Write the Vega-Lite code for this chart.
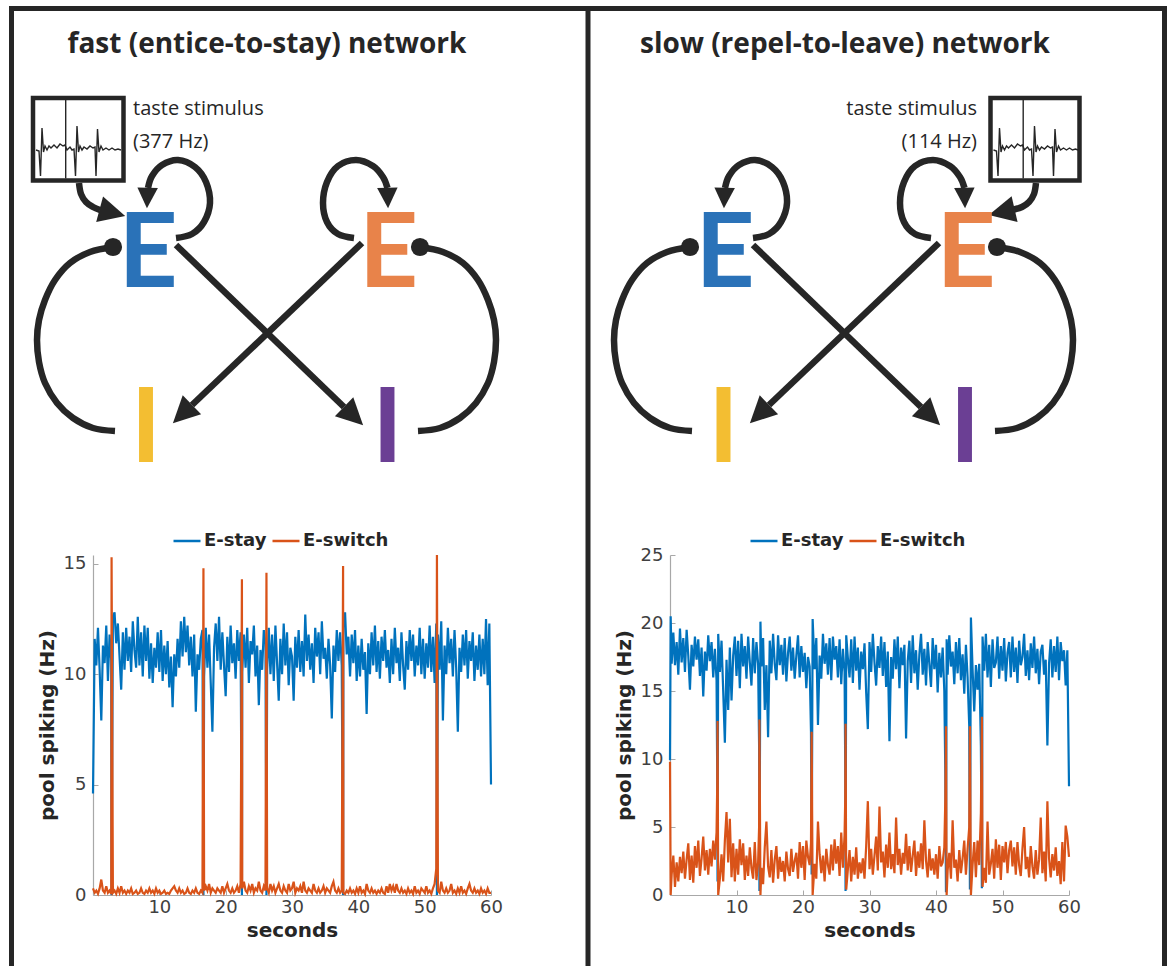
{
  "$schema": "https://vega.github.io/schema/vega-lite/v6.json",
  "width": 1168,
  "height": 966,
  "autosize": {"type": "none"},
  "padding": 0,
  "background": "white",
  "datasets": {
    "frame": [
      {"x": 9, "y": 8.5, "x2": 1167, "y2": 8.5},
      {"x": 11.5, "y": 6, "x2": 11.5, "y2": 966},
      {"x": 588, "y": 8.5, "x2": 588, "y2": 966},
      {"x": 1164.5, "y": 6, "x2": 1164.5, "y2": 966}
    ],
    "boxes": [
      {"x": 33, "y": 98, "x2": 123.5, "y2": 180.5},
      {"x": 990.5, "y": 98, "x2": 1079.5, "y2": 180.5}
    ],
    "thick": [
      {"g": "inL", "i": 0, "x": 79, "y": 183}, {"g": "inL", "i": 1, "x": 81, "y": 194}, {"g": "inL", "i": 2, "x": 86, "y": 202}, {"g": "inL", "i": 3, "x": 93, "y": 207}, {"g": "inL", "i": 4, "x": 100, "y": 210},
      {"g": "loopBL", "i": 0, "x": 176, "y": 238}, {"g": "loopBL", "i": 1, "x": 192, "y": 234}, {"g": "loopBL", "i": 2, "x": 204, "y": 222}, {"g": "loopBL", "i": 3, "x": 210, "y": 203}, {"g": "loopBL", "i": 4, "x": 206, "y": 182}, {"g": "loopBL", "i": 5, "x": 195, "y": 167}, {"g": "loopBL", "i": 6, "x": 178, "y": 160}, {"g": "loopBL", "i": 7, "x": 162, "y": 165}, {"g": "loopBL", "i": 8, "x": 152, "y": 176}, {"g": "loopBL", "i": 9, "x": 148, "y": 188},
      {"g": "loopOL", "i": 0, "x": 354, "y": 238}, {"g": "loopOL", "i": 1, "x": 338, "y": 234}, {"g": "loopOL", "i": 2, "x": 327, "y": 222}, {"g": "loopOL", "i": 3, "x": 323, "y": 203}, {"g": "loopOL", "i": 4, "x": 327, "y": 182}, {"g": "loopOL", "i": 5, "x": 338, "y": 166}, {"g": "loopOL", "i": 6, "x": 356, "y": 160}, {"g": "loopOL", "i": 7, "x": 373, "y": 166}, {"g": "loopOL", "i": 8, "x": 383, "y": 177}, {"g": "loopOL", "i": 9, "x": 387.5, "y": 188},
      {"g": "xBL", "i": 0, "x": 176, "y": 245}, {"g": "xBL", "i": 1, "x": 344, "y": 407},
      {"g": "xOL", "i": 0, "x": 362, "y": 243}, {"g": "xOL", "i": 1, "x": 192, "y": 405},
      {"g": "arcLL", "i": 0, "x": 113, "y": 247}, {"g": "arcLL", "i": 1, "x": 90, "y": 252}, {"g": "arcLL", "i": 2, "x": 70, "y": 263}, {"g": "arcLL", "i": 3, "x": 55, "y": 280}, {"g": "arcLL", "i": 4, "x": 45, "y": 300}, {"g": "arcLL", "i": 5, "x": 39, "y": 320}, {"g": "arcLL", "i": 6, "x": 37, "y": 340}, {"g": "arcLL", "i": 7, "x": 39, "y": 362}, {"g": "arcLL", "i": 8, "x": 45, "y": 383}, {"g": "arcLL", "i": 9, "x": 57, "y": 403}, {"g": "arcLL", "i": 10, "x": 73, "y": 418}, {"g": "arcLL", "i": 11, "x": 93, "y": 428}, {"g": "arcLL", "i": 12, "x": 115, "y": 431},
      {"g": "arcRL", "i": 0, "x": 420, "y": 247}, {"g": "arcRL", "i": 1, "x": 443, "y": 252}, {"g": "arcRL", "i": 2, "x": 463, "y": 263}, {"g": "arcRL", "i": 3, "x": 478, "y": 280}, {"g": "arcRL", "i": 4, "x": 488, "y": 300}, {"g": "arcRL", "i": 5, "x": 494, "y": 320}, {"g": "arcRL", "i": 6, "x": 496, "y": 340}, {"g": "arcRL", "i": 7, "x": 494, "y": 362}, {"g": "arcRL", "i": 8, "x": 488, "y": 383}, {"g": "arcRL", "i": 9, "x": 476, "y": 403}, {"g": "arcRL", "i": 10, "x": 460, "y": 418}, {"g": "arcRL", "i": 11, "x": 440, "y": 428}, {"g": "arcRL", "i": 12, "x": 418, "y": 431},
      {"g": "inR", "i": 0, "x": 1036, "y": 183}, {"g": "inR", "i": 1, "x": 1034, "y": 194}, {"g": "inR", "i": 2, "x": 1029, "y": 202}, {"g": "inR", "i": 3, "x": 1022, "y": 207}, {"g": "inR", "i": 4, "x": 1014, "y": 209.5},
      {"g": "loopBR", "i": 0, "x": 753, "y": 238}, {"g": "loopBR", "i": 1, "x": 769, "y": 234}, {"g": "loopBR", "i": 2, "x": 781, "y": 222}, {"g": "loopBR", "i": 3, "x": 787, "y": 203}, {"g": "loopBR", "i": 4, "x": 783, "y": 182}, {"g": "loopBR", "i": 5, "x": 772, "y": 167}, {"g": "loopBR", "i": 6, "x": 755, "y": 160}, {"g": "loopBR", "i": 7, "x": 739, "y": 165}, {"g": "loopBR", "i": 8, "x": 729, "y": 176}, {"g": "loopBR", "i": 9, "x": 725, "y": 188},
      {"g": "loopOR", "i": 0, "x": 931, "y": 238}, {"g": "loopOR", "i": 1, "x": 915, "y": 234}, {"g": "loopOR", "i": 2, "x": 904, "y": 222}, {"g": "loopOR", "i": 3, "x": 900, "y": 203}, {"g": "loopOR", "i": 4, "x": 904, "y": 182}, {"g": "loopOR", "i": 5, "x": 915, "y": 166}, {"g": "loopOR", "i": 6, "x": 933, "y": 160}, {"g": "loopOR", "i": 7, "x": 950, "y": 166}, {"g": "loopOR", "i": 8, "x": 960, "y": 177}, {"g": "loopOR", "i": 9, "x": 964.5, "y": 188},
      {"g": "xBR", "i": 0, "x": 753, "y": 245}, {"g": "xBR", "i": 1, "x": 921, "y": 407},
      {"g": "xOR", "i": 0, "x": 939, "y": 243}, {"g": "xOR", "i": 1, "x": 769, "y": 405},
      {"g": "arcLR", "i": 0, "x": 690, "y": 247}, {"g": "arcLR", "i": 1, "x": 667, "y": 252}, {"g": "arcLR", "i": 2, "x": 647, "y": 263}, {"g": "arcLR", "i": 3, "x": 632, "y": 280}, {"g": "arcLR", "i": 4, "x": 622, "y": 300}, {"g": "arcLR", "i": 5, "x": 616, "y": 320}, {"g": "arcLR", "i": 6, "x": 614, "y": 340}, {"g": "arcLR", "i": 7, "x": 616, "y": 362}, {"g": "arcLR", "i": 8, "x": 622, "y": 383}, {"g": "arcLR", "i": 9, "x": 634, "y": 403}, {"g": "arcLR", "i": 10, "x": 650, "y": 418}, {"g": "arcLR", "i": 11, "x": 670, "y": 428}, {"g": "arcLR", "i": 12, "x": 692, "y": 431},
      {"g": "arcRR", "i": 0, "x": 997, "y": 247}, {"g": "arcRR", "i": 1, "x": 1020, "y": 252}, {"g": "arcRR", "i": 2, "x": 1040, "y": 263}, {"g": "arcRR", "i": 3, "x": 1055, "y": 280}, {"g": "arcRR", "i": 4, "x": 1065, "y": 300}, {"g": "arcRR", "i": 5, "x": 1071, "y": 320}, {"g": "arcRR", "i": 6, "x": 1073, "y": 340}, {"g": "arcRR", "i": 7, "x": 1071, "y": 362}, {"g": "arcRR", "i": 8, "x": 1065, "y": 383}, {"g": "arcRR", "i": 9, "x": 1053, "y": 403}, {"g": "arcRR", "i": 10, "x": 1037, "y": 418}, {"g": "arcRR", "i": 11, "x": 1017, "y": 428}, {"g": "arcRR", "i": 12, "x": 995, "y": 431}
    ],
    "thin": [
      {"g": "vL", "i": 0, "x": 65.7, "y": 100}, {"g": "vL", "i": 1, "x": 65.7, "y": 178.5},
      {"g": "vR", "i": 0, "x": 1023.2, "y": 100}, {"g": "vR", "i": 1, "x": 1023.2, "y": 178.5},
      {"g": "tL", "i": 0, "x": 36, "y": 150}, {"g": "tL", "i": 1, "x": 39, "y": 151}, {"g": "tL", "i": 2, "x": 40.5, "y": 176}, {"g": "tL", "i": 3, "x": 42, "y": 128}, {"g": "tL", "i": 4, "x": 43.5, "y": 152}, {"g": "tL", "i": 5, "x": 45, "y": 146}, {"g": "tL", "i": 6, "x": 47, "y": 150}, {"g": "tL", "i": 7, "x": 49, "y": 146}, {"g": "tL", "i": 8, "x": 51, "y": 148}, {"g": "tL", "i": 9, "x": 54, "y": 145}, {"g": "tL", "i": 10, "x": 57, "y": 148}, {"g": "tL", "i": 11, "x": 60, "y": 144}, {"g": "tL", "i": 12, "x": 63, "y": 146}, {"g": "tL", "i": 13, "x": 65, "y": 145}, {"g": "tL", "i": 14, "x": 67, "y": 150}, {"g": "tL", "i": 15, "x": 70, "y": 147}, {"g": "tL", "i": 16, "x": 72, "y": 150}, {"g": "tL", "i": 17, "x": 74, "y": 149}, {"g": "tL", "i": 18, "x": 75.5, "y": 176}, {"g": "tL", "i": 19, "x": 77, "y": 126}, {"g": "tL", "i": 20, "x": 78.5, "y": 152}, {"g": "tL", "i": 21, "x": 80, "y": 146}, {"g": "tL", "i": 22, "x": 82, "y": 150}, {"g": "tL", "i": 23, "x": 84, "y": 147}, {"g": "tL", "i": 24, "x": 87, "y": 149}, {"g": "tL", "i": 25, "x": 90, "y": 146}, {"g": "tL", "i": 26, "x": 93, "y": 148}, {"g": "tL", "i": 27, "x": 95, "y": 147}, {"g": "tL", "i": 28, "x": 96, "y": 176}, {"g": "tL", "i": 29, "x": 97.5, "y": 129}, {"g": "tL", "i": 30, "x": 99, "y": 152}, {"g": "tL", "i": 31, "x": 101, "y": 146}, {"g": "tL", "i": 32, "x": 103, "y": 150}, {"g": "tL", "i": 33, "x": 106, "y": 148}, {"g": "tL", "i": 34, "x": 109, "y": 150}, {"g": "tL", "i": 35, "x": 112, "y": 148}, {"g": "tL", "i": 36, "x": 115, "y": 150}, {"g": "tL", "i": 37, "x": 118, "y": 149}, {"g": "tL", "i": 38, "x": 121, "y": 150},
      {"g": "tR", "i": 0, "x": 993.5, "y": 150}, {"g": "tR", "i": 1, "x": 996.5, "y": 151}, {"g": "tR", "i": 2, "x": 998, "y": 176}, {"g": "tR", "i": 3, "x": 999.5, "y": 128}, {"g": "tR", "i": 4, "x": 1001, "y": 152}, {"g": "tR", "i": 5, "x": 1002.5, "y": 146}, {"g": "tR", "i": 6, "x": 1004.5, "y": 150}, {"g": "tR", "i": 7, "x": 1006.5, "y": 146}, {"g": "tR", "i": 8, "x": 1008.5, "y": 148}, {"g": "tR", "i": 9, "x": 1011.5, "y": 145}, {"g": "tR", "i": 10, "x": 1014.5, "y": 148}, {"g": "tR", "i": 11, "x": 1017.5, "y": 144}, {"g": "tR", "i": 12, "x": 1020.5, "y": 146}, {"g": "tR", "i": 13, "x": 1022.5, "y": 145}, {"g": "tR", "i": 14, "x": 1024.5, "y": 150}, {"g": "tR", "i": 15, "x": 1027.5, "y": 147}, {"g": "tR", "i": 16, "x": 1029.5, "y": 150}, {"g": "tR", "i": 17, "x": 1031.5, "y": 149}, {"g": "tR", "i": 18, "x": 1033, "y": 176}, {"g": "tR", "i": 19, "x": 1034.5, "y": 126}, {"g": "tR", "i": 20, "x": 1036, "y": 152}, {"g": "tR", "i": 21, "x": 1037.5, "y": 146}, {"g": "tR", "i": 22, "x": 1039.5, "y": 150}, {"g": "tR", "i": 23, "x": 1041.5, "y": 147}, {"g": "tR", "i": 24, "x": 1044.5, "y": 149}, {"g": "tR", "i": 25, "x": 1047.5, "y": 146}, {"g": "tR", "i": 26, "x": 1050.5, "y": 148}, {"g": "tR", "i": 27, "x": 1052.5, "y": 147}, {"g": "tR", "i": 28, "x": 1053.5, "y": 176}, {"g": "tR", "i": 29, "x": 1055, "y": 129}, {"g": "tR", "i": 30, "x": 1056.5, "y": 152}, {"g": "tR", "i": 31, "x": 1058.5, "y": 146}, {"g": "tR", "i": 32, "x": 1060.5, "y": 150}, {"g": "tR", "i": 33, "x": 1063.5, "y": 148}, {"g": "tR", "i": 34, "x": 1066.5, "y": 150}, {"g": "tR", "i": 35, "x": 1069.5, "y": 148}, {"g": "tR", "i": 36, "x": 1072.5, "y": 150}, {"g": "tR", "i": 37, "x": 1075.5, "y": 149}, {"g": "tR", "i": 38, "x": 1078, "y": 150}
    ],
    "heads": [
      {"x": 112.4, "y": 212.6, "a": 15}, {"x": 353.6, "y": 416, "a": 44}, {"x": 182.4, "y": 414, "a": 136},
      {"x": 1001.7, "y": 212.1, "a": 167}, {"x": 930.6, "y": 416, "a": 44}, {"x": 759.4, "y": 414, "a": 136}
    ],
    "loopheads": [
      {"x": 147.3, "y": 198, "a": 92}, {"x": 387.7, "y": 198, "a": 88},
      {"x": 724.3, "y": 198, "a": 92}, {"x": 964.7, "y": 198, "a": 88}
    ],
    "dots": [
      {"x": 113, "y": 247}, {"x": 420, "y": 247}, {"x": 690, "y": 247}, {"x": 997, "y": 247}
    ],
    "letters": [
      {"x": 148, "y": 287, "label": "E", "node": "E-stay"},
      {"x": 388.5, "y": 287, "label": "E", "node": "E-switch"},
      {"x": 146, "y": 462, "label": "I", "node": "I-switch"},
      {"x": 387.5, "y": 462, "label": "I", "node": "I-stay"},
      {"x": 725, "y": 287, "label": "E", "node": "E-stay"},
      {"x": 966, "y": 287, "label": "E", "node": "E-switch"},
      {"x": 723.5, "y": 462, "label": "I", "node": "I-switch"},
      {"x": 965, "y": 462, "label": "I", "node": "I-stay"}
    ],
    "titles": [
      {"x": 267, "y": 53, "text": "fast (entice-to-stay) network"},
      {"x": 845, "y": 53, "text": "slow (repel-to-leave) network"}
    ],
    "stimL": [
      {"x": 133, "y": 115, "text": "taste stimulus"},
      {"x": 133, "y": 148, "text": "(377 Hz)"}
    ],
    "stimR": [
      {"x": 977, "y": 115, "text": "taste stimulus"},
      {"x": 977, "y": 148, "text": "(114 Hz)"}
    ],
    "left": [
      {"t":0,"stay":4.6,"switch":0.3},{"t":0.25,"stay":11.6,"switch":0.1},{"t":0.5,"stay":10.4,"switch":0.2},{"t":0.75,"stay":12.1,"switch":0.05},
      {"t":1,"stay":10.2,"switch":0.3},{"t":1.25,"stay":7.9,"switch":0.7},{"t":1.5,"stay":11.3,"switch":0.2},{"t":1.75,"stay":10.5,"switch":0.1},
      {"t":2,"stay":12.2,"switch":0.4},{"t":2.25,"stay":9.7,"switch":0.1},{"t":2.5,"stay":11.8,"switch":0.2},{"t":2.75,"stay":10.6,"switch":0.05},{"t":2.8,"stay":0,"switch":15.3},
      {"t":3,"stay":12.6,"switch":0.1},{"t":3.25,"stay":12.8,"switch":0.2},{"t":3.5,"stay":11.4,"switch":0.05},{"t":3.75,"stay":12.3,"switch":0.3},
      {"t":4,"stay":10.8,"switch":0.1},{"t":4.25,"stay":9.3,"switch":0.4},{"t":4.5,"stay":11.9,"switch":0.1},{"t":4.75,"stay":10.2,"switch":0.2},
      {"t":5,"stay":12.1,"switch":0.05},{"t":5.25,"stay":10.6,"switch":0.2},{"t":5.5,"stay":11.7,"switch":0.1},{"t":5.75,"stay":10.1,"switch":0.3},
      {"t":6,"stay":12.4,"switch":0.05},{"t":6.25,"stay":11.1,"switch":0.1},{"t":6.5,"stay":10.3,"switch":0.2},{"t":6.75,"stay":12.6,"switch":0.05},
      {"t":7,"stay":10.4,"switch":0.1},{"t":7.25,"stay":11.9,"switch":0.3},{"t":7.5,"stay":9.9,"switch":0.1},{"t":7.75,"stay":12.2,"switch":0.05},
      {"t":8,"stay":10.6,"switch":0.2},{"t":8.25,"stay":12.1,"switch":0.1},{"t":8.5,"stay":9.8,"switch":0.3},{"t":8.75,"stay":11.4,"switch":0.1},
      {"t":9,"stay":9.6,"switch":0.2},{"t":9.25,"stay":11.2,"switch":0.05},{"t":9.5,"stay":10.3,"switch":0.3},{"t":9.75,"stay":11.9,"switch":0.1},
      {"t":10,"stay":10.1,"switch":0.2},{"t":10.25,"stay":12.0,"switch":0.05},{"t":10.5,"stay":9.7,"switch":0.1},{"t":10.75,"stay":11.3,"switch":0.2},
      {"t":11,"stay":10.0,"switch":0.05},{"t":11.25,"stay":11.5,"switch":0.1},{"t":11.5,"stay":9.4,"switch":0.05},{"t":11.75,"stay":10.8,"switch":0.2},
      {"t":12,"stay":8.5,"switch":0.3},{"t":12.25,"stay":10.9,"switch":0.4},{"t":12.5,"stay":9.9,"switch":0.2},{"t":12.75,"stay":11.6,"switch":0.1},
      {"t":13,"stay":10.3,"switch":0.3},{"t":13.25,"stay":12.4,"switch":0.1},{"t":13.5,"stay":10.8,"switch":0.2},{"t":13.75,"stay":12.6,"switch":0.05},
      {"t":14,"stay":11.0,"switch":0.1},{"t":14.25,"stay":12.2,"switch":0.3},{"t":14.5,"stay":10.4,"switch":0.1},{"t":14.75,"stay":11.7,"switch":0.05},
      {"t":15,"stay":9.9,"switch":0.2},{"t":15.25,"stay":11.8,"switch":0.1},{"t":15.5,"stay":8.3,"switch":0.3},{"t":15.75,"stay":10.9,"switch":0.1},
      {"t":16,"stay":10.2,"switch":0.05},{"t":16.25,"stay":11.6,"switch":0.2},{"t":16.5,"stay":12.0,"switch":0.1},{"t":16.65,"stay":0,"switch":14.8},{"t":16.75,"stay":9.9,"switch":0.2},
      {"t":17,"stay":12.1,"switch":0.4},{"t":17.25,"stay":10.3,"switch":0.2},{"t":17.5,"stay":11.8,"switch":0.5},{"t":17.75,"stay":9.6,"switch":0.1},
      {"t":18,"stay":7.4,"switch":0.3},{"t":18.25,"stay":11.2,"switch":0.2},{"t":18.5,"stay":12.3,"switch":0.1},{"t":18.75,"stay":10.6,"switch":0.3},
      {"t":19,"stay":12.6,"switch":0.2},{"t":19.25,"stay":10.2,"switch":0.1},{"t":19.5,"stay":11.9,"switch":0.4},{"t":19.75,"stay":10.4,"switch":0.1},
      {"t":20,"stay":9.0,"switch":0.3},{"t":20.25,"stay":11.7,"switch":0.5},{"t":20.5,"stay":10.1,"switch":0.2},{"t":20.75,"stay":12.2,"switch":0.1},
      {"t":21,"stay":10.5,"switch":0.3},{"t":21.25,"stay":11.4,"switch":0.1},{"t":21.5,"stay":9.8,"switch":0.2},{"t":21.75,"stay":12.0,"switch":0.4},
      {"t":22,"stay":10.6,"switch":0.1},{"t":22.25,"stay":11.9,"switch":0.5},{"t":22.45,"stay":0,"switch":14.3},{"t":22.5,"stay":10.1,"switch":0.3},{"t":22.75,"stay":11.8,"switch":0.6},
      {"t":23,"stay":10.3,"switch":0.2},{"t":23.25,"stay":12.1,"switch":0.1},{"t":23.5,"stay":9.6,"switch":0.4},{"t":23.75,"stay":11.5,"switch":0.2},
      {"t":24,"stay":10.9,"switch":0.5},{"t":24.25,"stay":12.2,"switch":0.1},{"t":24.5,"stay":9.9,"switch":0.3},{"t":24.75,"stay":11.3,"switch":0.2},
      {"t":25,"stay":8.6,"switch":0.6},{"t":25.25,"stay":11.1,"switch":0.2},{"t":25.5,"stay":10.2,"switch":0.1},{"t":25.75,"stay":12.0,"switch":0.4},
      {"t":26,"stay":11.4,"switch":0.2},{"t":26.15,"stay":0,"switch":14.6},{"t":26.25,"stay":10.2,"switch":0.3},{"t":26.5,"stay":12.1,"switch":0.1},{"t":26.75,"stay":10.0,"switch":0.5},
      {"t":27,"stay":11.8,"switch":0.2},{"t":27.25,"stay":9.7,"switch":0.4},{"t":27.5,"stay":12.2,"switch":0.1},{"t":27.75,"stay":10.5,"switch":0.3},
      {"t":28,"stay":8.8,"switch":0.5},{"t":28.25,"stay":11.6,"switch":0.2},{"t":28.5,"stay":10.0,"switch":0.1},{"t":28.75,"stay":12.3,"switch":0.4},
      {"t":29,"stay":10.4,"switch":0.2},{"t":29.25,"stay":11.9,"switch":0.1},{"t":29.5,"stay":9.5,"switch":0.5},{"t":29.75,"stay":11.2,"switch":0.2},
      {"t":30,"stay":10.8,"switch":0.3},{"t":30.25,"stay":8.8,"switch":0.6},{"t":30.5,"stay":11.7,"switch":0.1},{"t":30.75,"stay":10.3,"switch":0.3},
      {"t":31,"stay":12.0,"switch":0.2},{"t":31.25,"stay":10.1,"switch":0.4},{"t":31.5,"stay":11.5,"switch":0.1},{"t":31.75,"stay":9.9,"switch":0.6},
      {"t":32,"stay":12.7,"switch":0.2},{"t":32.25,"stay":10.6,"switch":0.1},{"t":32.5,"stay":11.8,"switch":0.3},{"t":32.75,"stay":10.2,"switch":0.2},
      {"t":33,"stay":11.4,"switch":0.1},{"t":33.25,"stay":9.6,"switch":0.5},{"t":33.5,"stay":12.1,"switch":0.2},{"t":33.75,"stay":10.8,"switch":0.1},
      {"t":34,"stay":11.9,"switch":0.3},{"t":34.25,"stay":10.0,"switch":0.1},{"t":34.5,"stay":12.4,"switch":0.2},{"t":34.75,"stay":10.7,"switch":0.4},
      {"t":35,"stay":11.2,"switch":0.1},{"t":35.25,"stay":9.8,"switch":0.3},{"t":35.5,"stay":11.6,"switch":0.2},{"t":35.75,"stay":10.4,"switch":0.1},
      {"t":36,"stay":8.0,"switch":0.4},{"t":36.25,"stay":11.3,"switch":0.6},{"t":36.5,"stay":10.1,"switch":0.2},{"t":36.75,"stay":12.0,"switch":0.1},
      {"t":37,"stay":10.6,"switch":0.3},{"t":37.25,"stay":11.9,"switch":0.1},{"t":37.5,"stay":10.4,"switch":0.2},{"t":37.7,"stay":0,"switch":14.9},{"t":37.75,"stay":12.5,"switch":0.1},
      {"t":38,"stay":12.8,"switch":0.05},{"t":38.25,"stay":10.9,"switch":0.2},{"t":38.5,"stay":11.7,"switch":0.1},{"t":38.75,"stay":9.9,"switch":0.3},
      {"t":39,"stay":11.8,"switch":0.1},{"t":39.25,"stay":10.5,"switch":0.2},{"t":39.5,"stay":12.0,"switch":0.05},{"t":39.75,"stay":9.7,"switch":0.3},
      {"t":40,"stay":11.3,"switch":0.1},{"t":40.25,"stay":9.9,"switch":0.4},{"t":40.5,"stay":11.6,"switch":0.1},{"t":40.75,"stay":10.2,"switch":0.2},
      {"t":41,"stay":11.0,"switch":0.05},{"t":41.25,"stay":8.2,"switch":0.5},{"t":41.5,"stay":11.4,"switch":0.2},{"t":41.75,"stay":10.0,"switch":0.1},
      {"t":42,"stay":11.9,"switch":0.3},{"t":42.25,"stay":10.4,"switch":0.1},{"t":42.5,"stay":12.2,"switch":0.2},{"t":42.75,"stay":10.1,"switch":0.05},
      {"t":43,"stay":11.5,"switch":0.2},{"t":43.25,"stay":9.8,"switch":0.1},{"t":43.5,"stay":11.7,"switch":0.3},{"t":43.75,"stay":10.6,"switch":0.1},
      {"t":44,"stay":12.0,"switch":0.05},{"t":44.25,"stay":10.3,"switch":0.4},{"t":44.5,"stay":11.1,"switch":0.1},{"t":44.75,"stay":9.6,"switch":0.5},
      {"t":45,"stay":11.6,"switch":0.2},{"t":45.25,"stay":10.0,"switch":0.4},{"t":45.5,"stay":12.1,"switch":0.1},{"t":45.75,"stay":10.5,"switch":0.5},
      {"t":46,"stay":11.2,"switch":0.2},{"t":46.25,"stay":9.7,"switch":0.1},{"t":46.5,"stay":11.9,"switch":0.3},{"t":46.75,"stay":10.4,"switch":0.1},
      {"t":47,"stay":9.3,"switch":0.2},{"t":47.25,"stay":11.5,"switch":0.05},{"t":47.5,"stay":10.2,"switch":0.3},{"t":47.75,"stay":12.0,"switch":0.1},
      {"t":48,"stay":10.6,"switch":0.2},{"t":48.25,"stay":11.8,"switch":0.05},{"t":48.5,"stay":9.9,"switch":0.4},{"t":48.75,"stay":11.3,"switch":0.1},
      {"t":49,"stay":10.4,"switch":0.2},{"t":49.25,"stay":12.1,"switch":0.05},{"t":49.5,"stay":10.0,"switch":0.3},{"t":49.75,"stay":11.6,"switch":0.2},
      {"t":50,"stay":9.8,"switch":0.1},{"t":50.25,"stay":11.4,"switch":0.4},{"t":50.5,"stay":10.3,"switch":0.1},{"t":50.75,"stay":12.2,"switch":0.2},
      {"t":51,"stay":10.1,"switch":0.05},{"t":51.25,"stay":11.7,"switch":0.3},{"t":51.5,"stay":9.6,"switch":0.5},{"t":51.75,"stay":12.3,"switch":1.2},{"t":51.85,"stay":0,"switch":15.4},
      {"t":52,"stay":11.8,"switch":0.2},{"t":52.25,"stay":10.2,"switch":0.1},{"t":52.5,"stay":12.4,"switch":0.6},{"t":52.75,"stay":7.9,"switch":0.2},
      {"t":53,"stay":11.3,"switch":0.1},{"t":53.25,"stay":10.0,"switch":0.3},{"t":53.5,"stay":12.1,"switch":0.1},{"t":53.75,"stay":10.5,"switch":0.2},
      {"t":54,"stay":11.6,"switch":0.5},{"t":54.25,"stay":9.9,"switch":0.1},{"t":54.5,"stay":12.0,"switch":0.2},{"t":54.75,"stay":10.3,"switch":0.05},
      {"t":55,"stay":7.4,"switch":0.3},{"t":55.25,"stay":11.2,"switch":0.1},{"t":55.5,"stay":10.1,"switch":0.4},{"t":55.75,"stay":11.8,"switch":0.1},
      {"t":56,"stay":10.4,"switch":0.2},{"t":56.25,"stay":12.0,"switch":0.05},{"t":56.5,"stay":9.8,"switch":0.3},{"t":56.75,"stay":11.5,"switch":0.5},
      {"t":57,"stay":10.6,"switch":0.2},{"t":57.25,"stay":11.9,"switch":0.1},{"t":57.5,"stay":9.7,"switch":0.3},{"t":57.75,"stay":11.3,"switch":0.1},
      {"t":58,"stay":10.2,"switch":0.2},{"t":58.25,"stay":11.8,"switch":0.05},{"t":58.5,"stay":9.9,"switch":0.3},{"t":58.75,"stay":11.6,"switch":0.1},
      {"t":59,"stay":10.0,"switch":0.2},{"t":59.25,"stay":12.5,"switch":0.05},{"t":59.5,"stay":9.5,"switch":0.3},{"t":59.75,"stay":12.3,"switch":0.1},
      {"t":60,"stay":5.0,"switch":0.1}
    ],
    "right": [
      {"t":0,"stay":9.9,"switch":9.8},{"t":0.1,"stay":20.5,"switch":0.0},{"t":0.25,"stay":17.0,"switch":1.5},{"t":0.5,"stay":19.3,"switch":2.9},{"t":0.75,"stay":16.9,"switch":0.6},
      {"t":1,"stay":18.6,"switch":2.4},{"t":1.25,"stay":16.2,"switch":1.0},{"t":1.5,"stay":19.6,"switch":2.8},{"t":1.75,"stay":17.1,"switch":1.6},
      {"t":2,"stay":18.9,"switch":3.2},{"t":2.25,"stay":16.4,"switch":1.2},{"t":2.5,"stay":19.5,"switch":2.6},{"t":2.75,"stay":17.6,"switch":3.8},
      {"t":3,"stay":15.1,"switch":1.1},{"t":3.25,"stay":18.4,"switch":2.9},{"t":3.5,"stay":16.8,"switch":0.9},{"t":3.75,"stay":19.0,"switch":3.6},
      {"t":4,"stay":17.3,"switch":2.0},{"t":4.25,"stay":18.8,"switch":4.0},{"t":4.5,"stay":16.1,"switch":1.4},{"t":4.75,"stay":18.2,"switch":2.7},
      {"t":5,"stay":14.6,"switch":4.3},{"t":5.25,"stay":17.9,"switch":1.8},{"t":5.5,"stay":16.5,"switch":3.3},{"t":5.75,"stay":19.1,"switch":1.5},
      {"t":6,"stay":17.2,"switch":3.4},{"t":6.25,"stay":18.6,"switch":2.1},{"t":6.5,"stay":16.0,"switch":4.0},{"t":6.75,"stay":18.1,"switch":2.6},
      {"t":7,"stay":15.8,"switch":4.6},{"t":7.1,"stay":9.0,"switch":8.0},{"t":7.15,"stay":1.0,"switch":12.8},{"t":7.25,"stay":19.2,"switch":0.0},{"t":7.5,"stay":16.4,"switch":1.2},{"t":7.75,"stay":18.7,"switch":3.0},
      {"t":8,"stay":15.0,"switch":1.0},{"t":8.25,"stay":11.2,"switch":4.0},{"t":8.5,"stay":17.3,"switch":6.1},{"t":8.75,"stay":13.6,"switch":2.4},
      {"t":9,"stay":18.2,"switch":5.6},{"t":9.25,"stay":14.3,"switch":1.3},{"t":9.5,"stay":17.6,"switch":3.8},{"t":9.75,"stay":19.0,"switch":1.0},
      {"t":10,"stay":16.1,"switch":3.4},{"t":10.25,"stay":18.7,"switch":1.5},{"t":10.5,"stay":15.2,"switch":4.1},{"t":10.75,"stay":19.2,"switch":2.2},
      {"t":11,"stay":16.8,"switch":3.8},{"t":11.25,"stay":18.3,"switch":1.1},{"t":11.5,"stay":15.9,"switch":2.9},{"t":11.75,"stay":19.0,"switch":1.4},
      {"t":12,"stay":17.1,"switch":3.5},{"t":12.25,"stay":15.4,"switch":2.0},{"t":12.5,"stay":18.9,"switch":1.2},{"t":12.75,"stay":16.3,"switch":3.9},
      {"t":13,"stay":18.6,"switch":1.1},{"t":13.25,"stay":17.0,"switch":2.4},{"t":13.4,"stay":11.0,"switch":5.0},{"t":13.45,"stay":0.3,"switch":12.9},{"t":13.6,"stay":20.1,"switch":0.0},{"t":13.75,"stay":16.8,"switch":2.0},
      {"t":14,"stay":18.9,"switch":0.8},{"t":14.25,"stay":13.6,"switch":3.5},{"t":14.5,"stay":16.9,"switch":5.4},{"t":14.75,"stay":11.6,"switch":2.1},
      {"t":15,"stay":18.7,"switch":1.3},{"t":15.25,"stay":16.3,"switch":3.3},{"t":15.5,"stay":19.2,"switch":0.9},{"t":15.75,"stay":17.0,"switch":2.6},
      {"t":16,"stay":15.8,"switch":3.6},{"t":16.25,"stay":19.1,"switch":1.2},{"t":16.5,"stay":16.9,"switch":2.8},{"t":16.75,"stay":18.4,"switch":1.7},
      {"t":17,"stay":16.2,"switch":2.5},{"t":17.25,"stay":18.9,"switch":1.0},{"t":17.5,"stay":15.7,"switch":3.2},{"t":17.75,"stay":17.8,"switch":1.9},
      {"t":18,"stay":19.0,"switch":1.4},{"t":18.25,"stay":16.5,"switch":3.4},{"t":18.5,"stay":18.2,"switch":1.7},{"t":18.75,"stay":15.9,"switch":2.5},
      {"t":19,"stay":17.6,"switch":3.1},{"t":19.25,"stay":19.1,"switch":1.2},{"t":19.5,"stay":16.0,"switch":3.9},{"t":19.75,"stay":18.3,"switch":2.0},
      {"t":20,"stay":16.4,"switch":3.6},{"t":20.25,"stay":17.8,"switch":1.1},{"t":20.5,"stay":15.2,"switch":4.0},{"t":20.75,"stay":17.5,"switch":2.8},
      {"t":21,"stay":16.8,"switch":2.2},{"t":21.2,"stay":12.0,"switch":3.8},{"t":21.3,"stay":1.5,"switch":12.0},{"t":21.45,"stay":20.3,"switch":0.0},{"t":21.75,"stay":16.6,"switch":2.3},
      {"t":22,"stay":18.9,"switch":1.2},{"t":22.25,"stay":12.5,"switch":5.4},{"t":22.5,"stay":17.6,"switch":3.0},{"t":22.75,"stay":15.9,"switch":1.6},
      {"t":23,"stay":19.2,"switch":2.9},{"t":23.25,"stay":17.0,"switch":1.0},{"t":23.5,"stay":18.5,"switch":3.4},{"t":23.75,"stay":16.2,"switch":2.2},
      {"t":24,"stay":18.9,"switch":1.5},{"t":24.25,"stay":15.8,"switch":3.7},{"t":24.5,"stay":19.0,"switch":1.8},{"t":24.75,"stay":17.3,"switch":4.1},
      {"t":25,"stay":18.3,"switch":2.3},{"t":25.25,"stay":16.0,"switch":3.6},{"t":25.5,"stay":18.8,"switch":1.4},{"t":25.75,"stay":15.5,"switch":4.6},
      {"t":26,"stay":18.1,"switch":2.0},{"t":26.25,"stay":16.4,"switch":4.4},{"t":26.35,"stay":9.5,"switch":7.0},{"t":26.4,"stay":0.3,"switch":12.6},{"t":26.5,"stay":19.1,"switch":0.4},{"t":26.75,"stay":17.4,"switch":1.9},
      {"t":27,"stay":16.0,"switch":3.3},{"t":27.25,"stay":18.8,"switch":1.0},{"t":27.5,"stay":15.6,"switch":2.8},{"t":27.75,"stay":19.0,"switch":1.5},
      {"t":28,"stay":16.5,"switch":3.5},{"t":28.25,"stay":18.2,"switch":1.2},{"t":28.5,"stay":15.1,"switch":2.4},{"t":28.75,"stay":17.9,"switch":1.6},
      {"t":29,"stay":16.6,"switch":2.7},{"t":29.25,"stay":18.5,"switch":1.2},{"t":29.5,"stay":14.9,"switch":3.6},{"t":29.75,"stay":12.2,"switch":6.9},
      {"t":30,"stay":18.6,"switch":1.9},{"t":30.25,"stay":16.4,"switch":3.4},{"t":30.5,"stay":19.2,"switch":1.5},{"t":30.75,"stay":17.1,"switch":2.9},
      {"t":31,"stay":15.4,"switch":4.3},{"t":31.25,"stay":18.3,"switch":1.8},{"t":31.5,"stay":16.7,"switch":6.5},{"t":31.75,"stay":19.0,"switch":2.4},
      {"t":32,"stay":16.1,"switch":3.2},{"t":32.25,"stay":18.6,"switch":1.3},{"t":32.5,"stay":15.3,"switch":3.7},{"t":32.75,"stay":17.9,"switch":2.0},
      {"t":33,"stay":11.3,"switch":4.6},{"t":33.25,"stay":17.5,"switch":1.9},{"t":33.5,"stay":15.9,"switch":3.0},{"t":33.75,"stay":18.8,"switch":1.6},
      {"t":34,"stay":16.6,"switch":5.7},{"t":34.25,"stay":19.0,"switch":2.2},{"t":34.5,"stay":15.2,"switch":3.4},{"t":34.75,"stay":18.2,"switch":1.5},
      {"t":35,"stay":16.9,"switch":3.1},{"t":35.25,"stay":18.4,"switch":2.3},{"t":35.5,"stay":11.5,"switch":4.5},{"t":35.75,"stay":17.2,"switch":1.8},
      {"t":36,"stay":18.7,"switch":3.6},{"t":36.25,"stay":15.6,"switch":1.7},{"t":36.5,"stay":19.1,"switch":2.9},{"t":36.75,"stay":16.3,"switch":4.0},
      {"t":37,"stay":18.0,"switch":1.4},{"t":37.25,"stay":15.1,"switch":3.2},{"t":37.5,"stay":17.7,"switch":2.0},{"t":37.75,"stay":19.2,"switch":3.8},
      {"t":38,"stay":16.2,"switch":1.9},{"t":38.25,"stay":18.1,"switch":5.5},{"t":38.5,"stay":15.4,"switch":2.5},{"t":38.75,"stay":18.6,"switch":1.3},
      {"t":39,"stay":17.0,"switch":3.4},{"t":39.25,"stay":15.3,"switch":1.8},{"t":39.5,"stay":18.9,"switch":2.7},{"t":39.75,"stay":16.6,"switch":1.5},
      {"t":40,"stay":18.4,"switch":3.0},{"t":40.25,"stay":14.9,"switch":1.2},{"t":40.5,"stay":17.8,"switch":3.6},{"t":40.75,"stay":16.0,"switch":2.1},
      {"t":41,"stay":18.2,"switch":2.4},{"t":41.25,"stay":15.0,"switch":3.5},{"t":41.4,"stay":9.0,"switch":7.0},{"t":41.5,"stay":0.2,"switch":12.4},{"t":41.6,"stay":18.8,"switch":0.0},{"t":41.75,"stay":16.2,"switch":1.8},
      {"t":42,"stay":19.1,"switch":3.1},{"t":42.25,"stay":16.8,"switch":1.2},{"t":42.5,"stay":17.9,"switch":5.5},{"t":42.75,"stay":15.5,"switch":2.0},
      {"t":43,"stay":18.6,"switch":2.6},{"t":43.25,"stay":16.3,"switch":1.0},{"t":43.5,"stay":18.9,"switch":3.3},{"t":43.75,"stay":15.8,"switch":1.6},
      {"t":44,"stay":17.7,"switch":2.7},{"t":44.25,"stay":14.8,"switch":4.0},{"t":44.5,"stay":18.4,"switch":1.5},{"t":44.75,"stay":16.0,"switch":3.4},
      {"t":45,"stay":12.4,"switch":5.0},{"t":45.1,"stay":0.4,"switch":12.4},{"t":45.25,"stay":20.4,"switch":0.0},{"t":45.5,"stay":16.6,"switch":2.2},{"t":45.75,"stay":13.5,"switch":3.9},
      {"t":46,"stay":16.9,"switch":1.3},{"t":46.25,"stay":15.1,"switch":4.0},{"t":46.5,"stay":17.0,"switch":2.2},{"t":46.75,"stay":11.0,"switch":6.0},{"t":46.9,"stay":0.5,"switch":13.1},
      {"t":47,"stay":19.0,"switch":0.6},{"t":47.25,"stay":16.5,"switch":2.0},{"t":47.5,"stay":19.2,"switch":0.9},{"t":47.75,"stay":16.0,"switch":5.4},
      {"t":48,"stay":18.4,"switch":1.5},{"t":48.25,"stay":15.3,"switch":2.3},{"t":48.5,"stay":18.8,"switch":3.4},{"t":48.75,"stay":16.7,"switch":1.2},
      {"t":49,"stay":17.1,"switch":4.1},{"t":49.25,"stay":19.0,"switch":2.0},{"t":49.5,"stay":15.9,"switch":3.7},{"t":49.75,"stay":18.3,"switch":1.1},
      {"t":50,"stay":16.5,"switch":3.6},{"t":50.25,"stay":18.9,"switch":2.4},{"t":50.5,"stay":15.7,"switch":3.9},{"t":50.75,"stay":17.8,"switch":1.6},
      {"t":51,"stay":18.6,"switch":3.3},{"t":51.25,"stay":16.0,"switch":4.0},{"t":51.5,"stay":19.0,"switch":2.1},{"t":51.75,"stay":16.4,"switch":3.5},
      {"t":52,"stay":18.2,"switch":1.5},{"t":52.25,"stay":15.6,"switch":3.9},{"t":52.5,"stay":18.7,"switch":2.2},{"t":52.75,"stay":16.9,"switch":1.4},
      {"t":53,"stay":17.5,"switch":3.4},{"t":53.25,"stay":19.2,"switch":5.0},{"t":53.5,"stay":16.1,"switch":1.9},{"t":53.75,"stay":18.0,"switch":2.8},
      {"t":54,"stay":15.8,"switch":1.3},{"t":54.25,"stay":18.5,"switch":3.6},{"t":54.5,"stay":16.7,"switch":2.1},{"t":54.75,"stay":19.0,"switch":1.2},
      {"t":55,"stay":16.3,"switch":3.3},{"t":55.25,"stay":18.1,"switch":1.5},{"t":55.5,"stay":15.5,"switch":2.6},{"t":55.75,"stay":17.9,"switch":5.7},
      {"t":56,"stay":18.4,"switch":1.6},{"t":56.25,"stay":16.2,"switch":3.2},{"t":56.5,"stay":17.3,"switch":1.0},{"t":56.75,"stay":11.0,"switch":6.9},
      {"t":57,"stay":17.0,"switch":2.7},{"t":57.25,"stay":18.8,"switch":1.3},{"t":57.5,"stay":16.0,"switch":3.0},{"t":57.75,"stay":18.3,"switch":1.8},
      {"t":58,"stay":16.4,"switch":3.5},{"t":58.25,"stay":19.0,"switch":1.4},{"t":58.5,"stay":15.8,"switch":2.5},{"t":58.75,"stay":18.6,"switch":0.8},
      {"t":59,"stay":17.2,"switch":3.9},{"t":59.25,"stay":18.0,"switch":1.0},{"t":59.5,"stay":15.4,"switch":5.1},{"t":59.75,"stay":18.0,"switch":4.3},
      {"t":60,"stay":8.0,"switch":2.8}
    ]
  },
  "layer": [
    {
      "layer": [
        {
          "data": {"name": "frame"},
          "mark": {"type": "rule", "strokeWidth": 5, "color": "#262626"},
          "encoding": {
            "x": {"field": "x", "type": "quantitative", "scale": {"domain": [0, 1168], "range": [0, 1168], "nice": false, "zero": false}, "axis": null},
            "y": {"field": "y", "type": "quantitative", "scale": {"domain": [0, 966], "range": [0, 966], "nice": false, "zero": false}, "axis": null},
            "x2": {"field": "x2"},
            "y2": {"field": "y2"}
          }
        },
        {
          "data": {"name": "boxes"},
          "mark": {"type": "rect", "filled": false, "stroke": "#262626", "strokeWidth": 4.5},
          "encoding": {
            "x": {"field": "x", "type": "quantitative"},
            "y": {"field": "y", "type": "quantitative"},
            "x2": {"field": "x2"},
            "y2": {"field": "y2"}
          }
        },
        {
          "data": {"name": "thin"},
          "mark": {"type": "line", "strokeWidth": 1.4, "color": "#262626"},
          "encoding": {
            "x": {"field": "x", "type": "quantitative"},
            "y": {"field": "y", "type": "quantitative"},
            "detail": {"field": "g"},
            "order": {"field": "i", "type": "quantitative"}
          }
        },
        {
          "data": {"name": "thick"},
          "mark": {"type": "line", "strokeWidth": 6.5, "color": "#262626", "interpolate": "cardinal"},
          "encoding": {
            "x": {"field": "x", "type": "quantitative"},
            "y": {"field": "y", "type": "quantitative"},
            "detail": {"field": "g"},
            "order": {"field": "i", "type": "quantitative"}
          }
        },
        {
          "data": {"name": "heads"},
          "mark": {"type": "point", "shape": "M1,0L-1,-1L-1,1Z", "filled": true, "size": 700, "color": "#262626", "opacity": 1},
          "encoding": {
            "x": {"field": "x", "type": "quantitative"},
            "y": {"field": "y", "type": "quantitative"},
            "angle": {"field": "a", "type": "quantitative", "scale": null}
          }
        },
        {
          "data": {"name": "loopheads"},
          "mark": {"type": "point", "shape": "M1,0L-1,-1L-1,1Z", "filled": true, "size": 420, "color": "#262626", "opacity": 1},
          "encoding": {
            "x": {"field": "x", "type": "quantitative"},
            "y": {"field": "y", "type": "quantitative"},
            "angle": {"field": "a", "type": "quantitative", "scale": null}
          }
        },
        {
          "data": {"name": "dots"},
          "mark": {"type": "point", "shape": "circle", "filled": true, "size": 330, "color": "#262626", "opacity": 1},
          "encoding": {
            "x": {"field": "x", "type": "quantitative"},
            "y": {"field": "y", "type": "quantitative"}
          }
        },
        {
          "data": {"name": "letters"},
          "mark": {"type": "text", "font": "Lato", "fontWeight": "bold", "fontSize": 103, "align": "center", "baseline": "alphabetic"},
          "encoding": {
            "x": {"field": "x", "type": "quantitative"},
            "y": {"field": "y", "type": "quantitative"},
            "text": {"field": "label"},
            "color": {"field": "node", "type": "nominal", "scale": {"domain": ["E-stay", "E-switch", "I-switch", "I-stay"], "range": ["#2a72b8", "#e8834a", "#f3be32", "#6b3f94"]}, "legend": null}
          }
        },
        {
          "data": {"name": "titles"},
          "mark": {"type": "text", "font": "Open Sans", "fontWeight": "bold", "fontSize": 28, "align": "center", "baseline": "alphabetic", "color": "#262626"},
          "encoding": {
            "x": {"field": "x", "type": "quantitative"},
            "y": {"field": "y", "type": "quantitative"},
            "text": {"field": "text"}
          }
        },
        {
          "data": {"name": "stimL"},
          "mark": {"type": "text", "font": "Open Sans", "fontSize": 20, "align": "left", "baseline": "alphabetic", "color": "#262626"},
          "encoding": {
            "x": {"field": "x", "type": "quantitative"},
            "y": {"field": "y", "type": "quantitative"},
            "text": {"field": "text"}
          }
        },
        {
          "data": {"name": "stimR"},
          "mark": {"type": "text", "font": "Open Sans", "fontSize": 20, "align": "right", "baseline": "alphabetic", "color": "#262626"},
          "encoding": {
            "x": {"field": "x", "type": "quantitative"},
            "y": {"field": "y", "type": "quantitative"},
            "text": {"field": "text"}
          }
        }
      ]
    },
    {
      "data": {"name": "left"},
      "transform": [{"fold": ["stay", "switch"], "as": ["pool", "rate"]}],
      "mark": {"type": "line", "strokeWidth": 2.2},
      "encoding": {
        "x": {"field": "t", "type": "quantitative", "scale": {"domain": [0, 60], "range": [93, 491], "nice": false, "zero": false},
              "axis": {"orient": "bottom", "offset": -71, "values": [10, 20, 30, 40, 50, 60], "title": "seconds", "labelFlush": false, "labelOverlap": false, "tickSize": -5, "labelPadding": 8, "titlePadding": 4}},
        "y": {"field": "rate", "type": "quantitative", "scale": {"domain": [0, 15.4], "range": [895, 555], "nice": false, "zero": false},
              "axis": {"orient": "left", "offset": -93, "values": [0, 5, 10, 15], "title": "pool spiking (Hz)", "labelFlush": false, "labelOverlap": false, "tickSize": -5, "labelPadding": 12, "titlePadding": 6}},
        "color": {"field": "pool", "type": "nominal", "scale": {"domain": ["stay", "switch"], "range": ["#0072BD", "#D95319"]},
                  "legend": {"orient": "none", "legendX": 172, "legendY": 526, "direction": "horizontal", "title": null, "labelExpr": "'E-' + datum.label"}}
      }
    },
    {
      "data": {"name": "right"},
      "transform": [{"fold": ["stay", "switch"], "as": ["pool", "rate"]}],
      "mark": {"type": "line", "strokeWidth": 2.2},
      "encoding": {
        "x": {"field": "t", "type": "quantitative", "scale": {"domain": [0, 60], "range": [670, 1069], "nice": false, "zero": false},
              "axis": {"orient": "bottom", "offset": -71, "values": [10, 20, 30, 40, 50, 60], "title": "seconds", "labelFlush": false, "labelOverlap": false, "tickSize": -5, "labelPadding": 8, "titlePadding": 4}},
        "y": {"field": "rate", "type": "quantitative", "scale": {"domain": [0, 25], "range": [895, 555], "nice": false, "zero": false},
              "axis": {"orient": "left", "offset": -670, "values": [0, 5, 10, 15, 20, 25], "title": "pool spiking (Hz)", "labelFlush": false, "labelOverlap": false, "tickSize": -5, "labelPadding": 12, "titlePadding": 6}},
        "color": {"field": "pool", "type": "nominal", "scale": {"domain": ["stay", "switch"], "range": ["#0072BD", "#D95319"]},
                  "legend": {"orient": "none", "legendX": 749, "legendY": 526, "direction": "horizontal", "title": null, "labelExpr": "'E-' + datum.label"}}
      }
    }
  ],
  "resolve": {
    "scale": {"x": "independent", "y": "independent", "color": "independent"},
    "axis": {"x": "independent", "y": "independent"},
    "legend": {"color": "independent"}
  },
  "config": {
    "view": {"stroke": null},
    "axis": {
      "grid": false,
      "domainColor": "#a8a8a8",
      "domainWidth": 1.2,
      "tickColor": "#a8a8a8",
      "labelFont": "DejaVu Sans",
      "labelFontSize": 18,
      "labelColor": "#404040",
      "titleFont": "DejaVu Sans",
      "titleFontSize": 20,
      "titleFontWeight": "bold",
      "titleColor": "#262626"
    },
    "legend": {
      "symbolType": "stroke",
      "symbolSize": 729,
      "symbolStrokeWidth": 2.5,
      "labelFont": "DejaVu Sans",
      "labelFontWeight": "bold",
      "labelFontSize": 18,
      "labelColor": "#262626",
      "labelOffset": 2,
      "columnPadding": 0,
      "padding": 0
    }
  }
}
